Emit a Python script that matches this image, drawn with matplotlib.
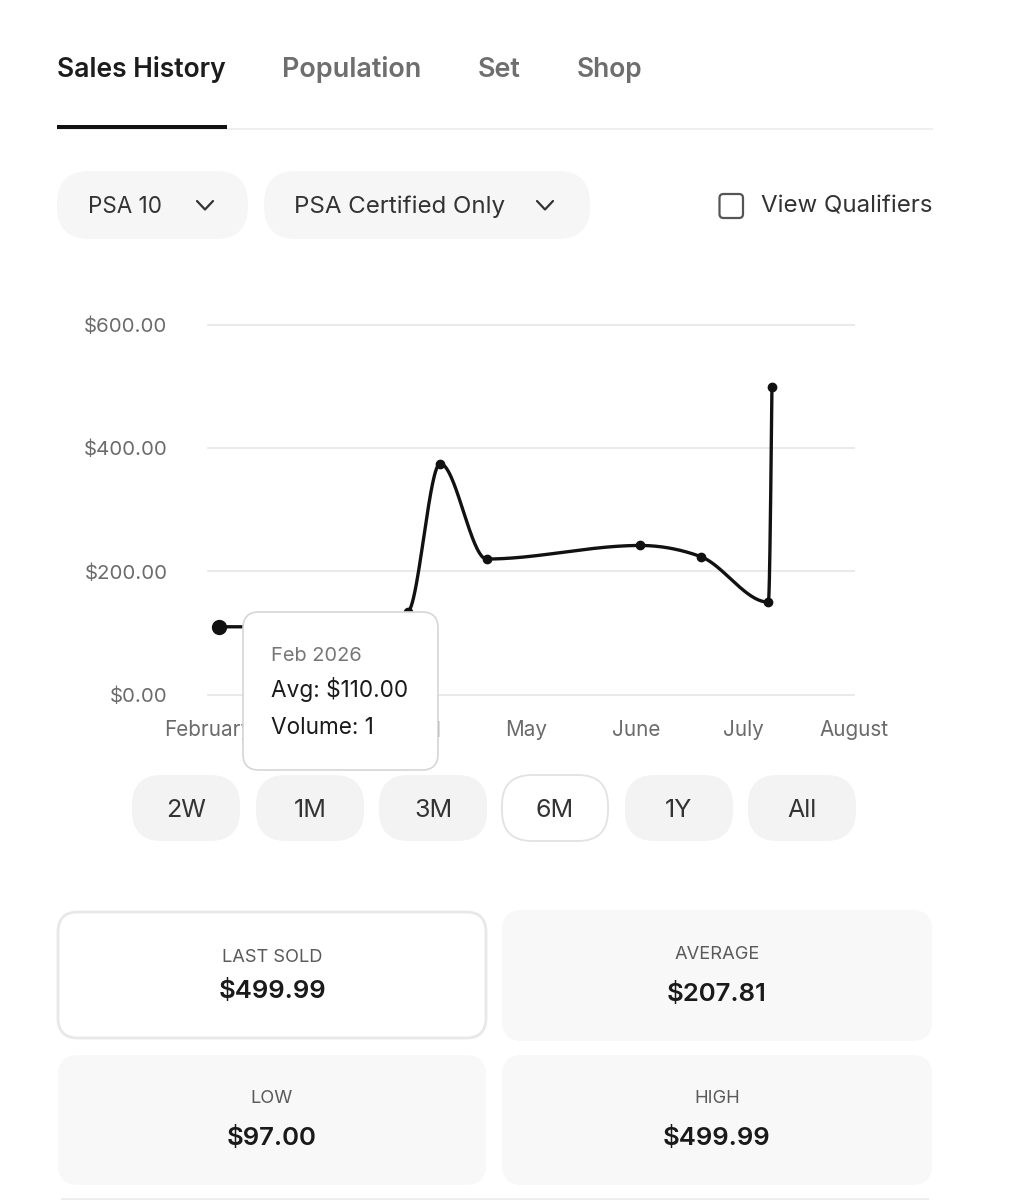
import matplotlib
matplotlib.use("Agg")
import matplotlib.pyplot as plt
import matplotlib.dates as mdates
from matplotlib.patches import FancyBboxPatch, Rectangle
import numpy as np
from datetime import datetime

plt.rcParams['font.family'] = ['Inter', 'DejaVu Sans']

# ---------------- data ----------------
sale_dates = ['2026-02-04', '2026-02-20', '2026-03-08', '2026-03-20', '2026-03-29',
              '2026-04-07', '2026-04-20', '2026-06-02', '2026-06-19', '2026-07-08', '2026-07-09']
sale_prices = [110.00, 110.00, 97.00, 114.00, 134.00, 375.00, 220.00, 242.00, 224.00, 150.00, 499.99]
month_ticks = ['2026-02-01', '2026-03-01', '2026-04-01', '2026-05-01', '2026-06-01', '2026-07-01', '2026-08-01']
month_labels = ['February', 'March', 'April', 'May', 'June', 'July', 'August']
price_ticks = [0, 200, 400, 600]
price_labels = ['$0.00', '$200.00', '$400.00', '$600.00']
tabs = ['Sales History', 'Population', 'Set', 'Shop']
filters = ['PSA 10', 'PSA Certified Only']
qualifier_label = 'View Qualifiers'
ranges = ['2W', '1M', '3M', '6M', '1Y', 'All']
selected_range = '6M'
stat_labels = ['LAST SOLD', 'AVERAGE', 'LOW', 'HIGH']
stat_values = ['$499.99', '$207.81', '$97.00', '$499.99']
tooltip_lines = ['Feb 2026', 'Avg: $110.00', 'Volume: 1']

W, H = 1032, 1200
fig = plt.figure(figsize=(W / 100, H / 100), dpi=100)
fig.patch.set_facecolor('white')
renderer = fig.canvas.get_renderer()


def fit_size(s, width, **kw):
    t = fig.text(0, 0, s, fontsize=20, **kw)
    w = t.get_window_extent(renderer).width
    t.remove()
    return 20.0 * width / w


# background UI axes in pixel coordinates
bg = fig.add_axes([0, 0, 1, 1], zorder=0)
bg.set_xlim(0, W)
bg.set_ylim(H, 0)
bg.axis('off')


def rbox(ax, x, y, w, h, r, fc, ec='none', lw=0, z=1):
    p = FancyBboxPatch((x, y), w, h, boxstyle=f"round,pad=0,rounding_size={r}",
                       fc=fc, ec=ec, lw=lw, zorder=z)
    ax.add_patch(p)
    return p


# ---- tabs ----
tab_lefts = [57, 282, 478, 577]
tab_widths = [169, 140, 43, 66]
for i, (t, x, w) in enumerate(zip(tabs, tab_lefts, tab_widths)):
    col = '#1c1c1c' if i == 0 else '#6e6e6e'
    fs = fit_size(t, w, weight='semibold')
    bg.text(x, 77, t, fontsize=fs, weight='semibold', color=col, ha='left', va='baseline')
bg.plot([57, 933], [129, 129], color='#ececec', lw=1.2, solid_capstyle='butt')
bg.add_patch(Rectangle((57, 125), 170, 3.5, fc='#111111', ec='none', zorder=3))

# ---- filter pills ----
rbox(bg, 57, 171, 191, 68, 32, '#f6f6f6')
rbox(bg, 264, 171, 326, 68, 32, '#f6f6f6')
fs = fit_size(filters[0], 74)
bg.text(88, 213, filters[0], fontsize=fs, color='#333333', ha='left', va='baseline')
fs2 = fit_size(filters[1], 211)
bg.text(294, 213, filters[1], fontsize=fs2, color='#333333', ha='left', va='baseline')
for cx in (205, 545):
    bg.plot([cx - 8, cx, cx + 8], [201, 209.5, 201], color='#333333', lw=1.6,
            solid_capstyle='round', solid_joinstyle='round')
rbox(bg, 719.5, 194, 23.5, 24, 4, 'white', ec='#555555', lw=1.6)
fs3 = fit_size(qualifier_label, 171)
bg.text(761, 213, qualifier_label, fontsize=fs3, color='#333333', ha='left', va='baseline')

# ---- chart ----
left_px, right_px, top_px, bot_px = 208.3, 854.0, 325.0, 694.5
ax = fig.add_axes([left_px / W, 1 - bot_px / H, (right_px - left_px) / W, (bot_px - top_px) / H], zorder=1)
ax.patch.set_alpha(0)

xd = mdates.date2num([datetime.strptime(d, '%Y-%m-%d') for d in sale_dates])
yv = np.asarray(sale_prices, float)


def monotone_x(x, y, n=60):
    h = np.diff(x)
    s = np.diff(y) / h
    t = np.zeros_like(y)
    for i in range(1, len(x) - 1):
        h0, h1, s0, s1 = h[i - 1], h[i], s[i - 1], s[i]
        p = (s0 * h1 + s1 * h0) / (h0 + h1)
        t[i] = (np.sign(s0) + np.sign(s1)) * min(abs(s0), abs(s1), 0.5 * abs(p))
    t[0] = (3 * s[0] - t[1]) / 2
    t[-1] = (3 * s[-1] - t[-2]) / 2
    xs, ys = [], []
    u = np.linspace(0, 1, n)
    for i in range(len(x) - 1):
        x0, x1, y0, y1 = x[i], x[i + 1], y[i], y[i + 1]
        d = (x1 - x0) / 3
        P = np.array([[x0, y0], [x0 + d, y0 + d * t[i]], [x1 - d, y1 - d * t[i + 1]], [x1, y1]])
        B = ((1 - u) ** 3)[:, None] * P[0] + (3 * (1 - u) ** 2 * u)[:, None] * P[1] + \
            (3 * (1 - u) * u ** 2)[:, None] * P[2] + (u ** 3)[:, None] * P[3]
        xs.append(B[:, 0]); ys.append(B[:, 1])
    return np.concatenate(xs), np.concatenate(ys)


cx, cy = monotone_x(xd, yv)
ax.plot(cx, cy, color='#111111', lw=2.4, clip_on=False, solid_capstyle='round', zorder=3)
ax.plot(xd, yv, 'o', ms=6, color='#111111', clip_on=False, zorder=4)
ax.plot(xd[:1], yv[:1], 'o', ms=10, color='#111111', clip_on=False, zorder=5)

xt = mdates.date2num([datetime.strptime(d, '%Y-%m-%d') for d in month_ticks])
ax.set_xlim(xt[0], xt[-1])
ax.set_ylim(0, 600)
ax.set_xticks(xt)
ax.set_yticks(price_ticks)
fsy = fit_size('$600.00', 83)
fsx = fit_size('August', 69)
ax.set_xticklabels(month_labels, fontsize=fsx, color='#6b6b6b')
ax.set_yticklabels(price_labels, fontsize=fsy, color='#6b6b6b')
for yt in price_ticks:
    ax.axhline(yt, color='#e6e6e6', lw=1.2, zorder=1, clip_on=False)
for sp in ax.spines.values():
    sp.set_visible(False)
ax.tick_params(axis='both', length=0)
ax.tick_params(axis='y', pad=29.5)
ax.tick_params(axis='x', pad=(41.5 - 0.75 * fsx * 100 / 72) * 0.72)

# ---- tooltip overlay ----
ov = fig.add_axes([0, 0, 1, 1], zorder=5)
ov.set_xlim(0, W)
ov.set_ylim(H, 0)
ov.axis('off')
rbox(ov, 243, 612, 195, 158, 16, 'white', ec='#d6d6d6', lw=1.2, z=2)
fs_t0 = fit_size(tooltip_lines[0], 91)
fs_t1 = fit_size(tooltip_lines[1], 137)
ov.text(271, 661, tooltip_lines[0], fontsize=fs_t0, color='#777777', ha='left', va='baseline', zorder=3)
ov.text(271, 697, tooltip_lines[1], fontsize=fs_t1, color='#1a1a1a', ha='left', va='baseline', zorder=3)
ov.text(271, 734, tooltip_lines[2], fontsize=fs_t1, color='#1a1a1a', ha='left', va='baseline', zorder=3)

# ---- range buttons ----
centers = [186, 310, 433, 555, 679, 802]
fs_r = fit_size('2W', 40)
for lab, c in zip(ranges, centers):
    if lab == selected_range:
        rbox(bg, c - 53, 775, 106, 66, 30, 'white', ec='#e2e2e2', lw=1.3)
    else:
        rbox(bg, c - 54, 775, 108, 66, 30, '#f3f3f3')
    bg.text(c, 817, lab, fontsize=fs_r, color='#333333', ha='center', va='baseline')

# ---- stat cards ----
cards = [(58, 912, 428, 126), (502, 910, 430, 131), (58, 1055, 428, 130), (502, 1055, 430, 130)]
label_base = [962, 959, 1103, 1103]
value_base = [998, 1001, 1145, 1145]
fs_l = fit_size('LAST SOLD', 101)
fs_v = fit_size('$499.99', 108, weight='semibold')
for i, ((x, y, w, h), lab, val) in enumerate(zip(cards, stat_labels, stat_values)):
    if i == 0:
        rbox(bg, x, y, w, h, 20, 'white', ec='#e8e8e8', lw=2)
    else:
        rbox(bg, x, y, w, h, 20, '#f8f8f8')
    cxm = x + w / 2
    bg.text(cxm, label_base[i], lab, fontsize=fs_l, color='#5a5a5a', ha='center', va='baseline')
    bg.text(cxm, value_base[i], val, fontsize=fs_v, weight='semibold', color='#1a1a1a',
            ha='center', va='baseline')
bg.plot([62, 928], [1199, 1199], color='#eeeeee', lw=1.5)

fig.savefig('out.png', dpi=100, facecolor='white')
